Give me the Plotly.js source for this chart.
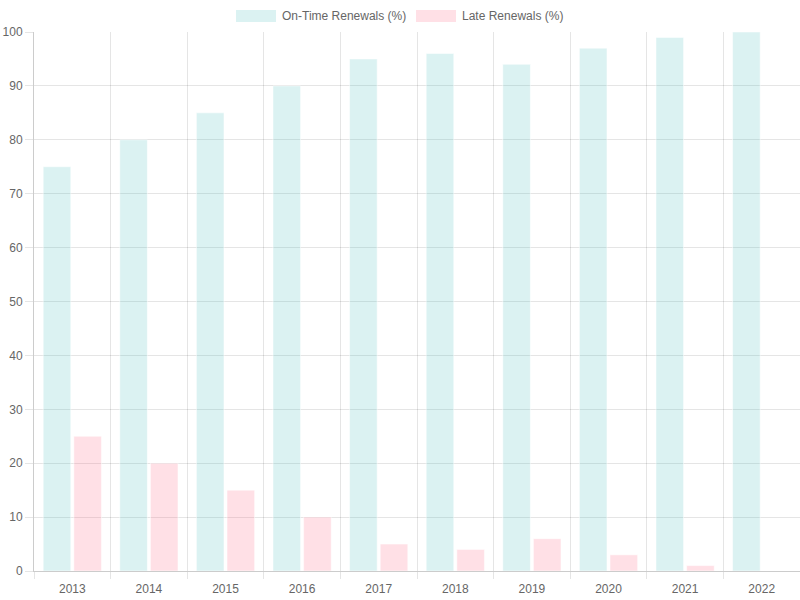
<!DOCTYPE html>
<html>
<head>
<meta charset="utf-8">
<script src="https://cdn.plot.ly/plotly-3.0.1.min.js"></script>
<style>html,body{margin:0;padding:0;background:#fff}#chart{width:800px;height:600px}</style>
</head>
<body>
<div id="chart"></div>
<script>
const years = ["2013","2014","2015","2016","2017","2018","2019","2020","2021","2022"];
const onTime = [75, 80, 85, 90, 95, 96, 94, 97, 99, 100];
const late = [25, 20, 15, 10, 5, 4, 6, 3, 1, 0];
const seriesNames = ["On-Time Renewals (%)", "Late Renewals (%)"];
const fills = ["rgba(75,192,192,0.2)", "rgba(255,99,132,0.2)"];

const L = 34, R = 0, T = 32, B = 29, W = 800, H = 600;
const pw = W - L - R, ph = H - T - B;
const px = v => (v - L) / pw;
const py = v => (H - B - v) / ph;

const traces = [onTime, late].map((vals, i) => ({
  type: "bar", x: years, y: vals, name: seriesNames[i],
  marker: {color: fills[i], line: {color: "rgba(255,255,255,0.5)", width: 1}},
  hoverinfo: "x+y", showlegend: false
}));

const font = {family: "Liberation Sans, Arial, sans-serif", size: 12, color: "#666"};
const swatches = [[236, 276, 282], [416, 456, 462]];
const shapes = swatches.map((s, i) => ({
  type: "rect", xref: "paper", yref: "paper",
  x0: px(s[0]), x1: px(s[1]), y0: py(22), y1: py(10),
  fillcolor: fills[i], line: {width: 0}
}));
const annotations = swatches.map((s, i) => ({
  xref: "paper", yref: "paper", x: px(s[2] - 2), y: py(16),
  xanchor: "left", yanchor: "middle", showarrow: false,
  text: seriesNames[i], font: font
}));

const layout = {
  width: W, height: H,
  margin: {l: L, r: R, t: T, b: B, pad: 0},
  paper_bgcolor: "#fff", plot_bgcolor: "#fff",
  font: font,
  barmode: "group", bargap: 0.2, bargroupgap: 0.1,
  showlegend: false,
  xaxis: {
    type: "category", tickson: "boundaries", ticks: "outside", ticklen: 7,
    ticklabelstandoff: 7,
    tickcolor: "rgba(0,0,0,0.1)", showgrid: true, gridcolor: "rgba(0,0,0,0.1)",
    showline: true, linecolor: "rgba(0,0,0,0.2)", linewidth: 1,
    tickfont: font, fixedrange: true
  },
  yaxis: {
    range: [0, 100], dtick: 10, ticks: "outside", ticklen: 8,
    tickcolor: "rgba(0,0,0,0.1)", showgrid: true, gridcolor: "rgba(0,0,0,0.1)",
    showline: true, linecolor: "rgba(0,0,0,0.2)", linewidth: 1, zeroline: false,
    tickfont: font, fixedrange: true
  },
  shapes: shapes,
  annotations: annotations
};

Plotly.newPlot("chart", traces, layout, {displayModeBar: false, staticPlot: true});
</script>
</body>
</html>
